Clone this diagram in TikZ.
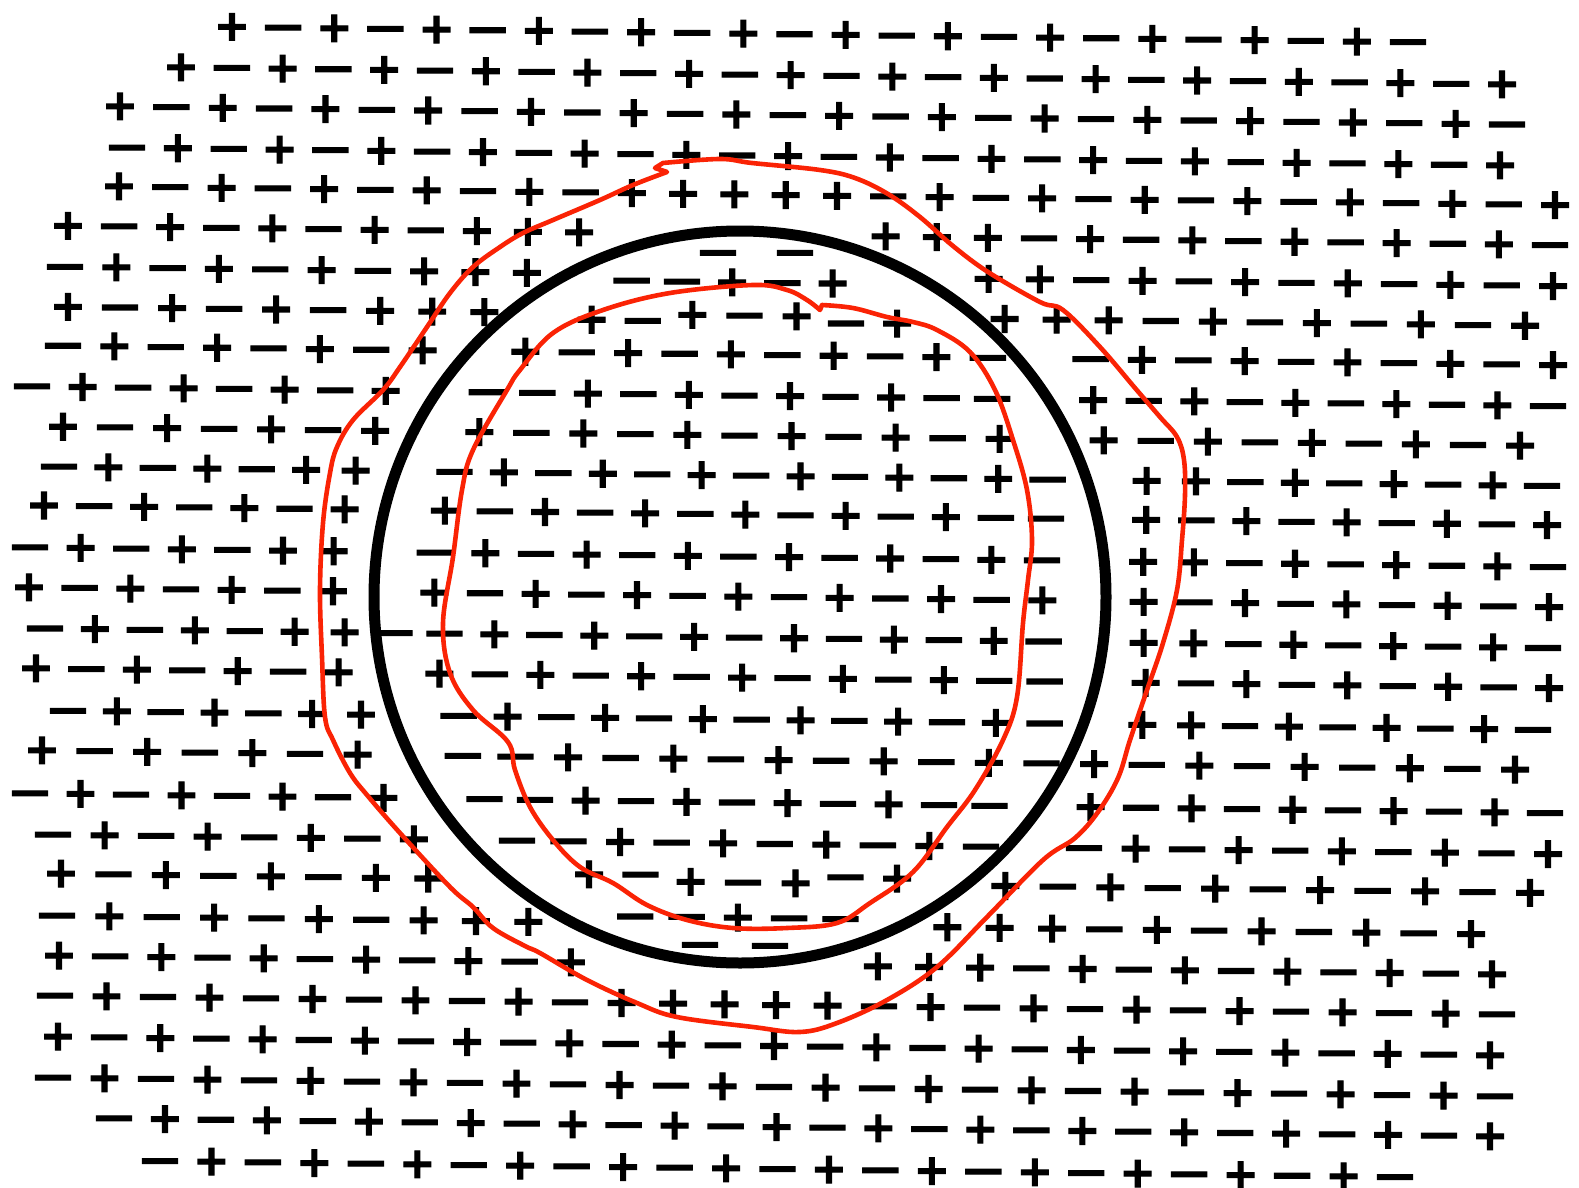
\documentclass[tikz,border=0pt]{standalone}
\usepackage{fontspec}
\usepackage{graphicx}
\newfontfamily\sgfont[FakeBold=2.5]{DejaVu Sans Bold}
\definecolor{redc}{RGB}{250,35,5}
\tikzset{
  sgbase/.style={inner sep=0pt, outer sep=0pt, font=\sgfont\fontsize{43}{43}\selectfont, anchor=center},
  sgp/.style={sgbase, text height=14pt, text depth=14pt},
  sgm/.style={sgbase, text height=2.5pt, text depth=2.5pt},
  ringline/.style={line width=11pt, draw=black},
  redline/.style={line width=4.6pt, draw=redc, line join=round, line cap=round},
}
\newcommand\PL{\raisebox{-15.4pt}{+}}
\newcommand\MI{\raisebox{-15.4pt}{\scalebox{1.3}[1]{−}}}
% #1 id, #2 y at x=0, #3 first x, #4 last x, #5 first sign (1 = plus), #6 count
\newcommand\signrow[6]{%
  \pgfmathsetmacro\stp{(#4-#3)/(#6-1)}%
  \pgfmathtruncatemacro\lastidx{#6-1}%
  \foreach \i in {0,...,\lastidx}{%
    \pgfmathsetmacro\xx{#3+\i*\stp}%
    \pgfmathsetmacro\yy{#2+0.013*\xx}%
    \pgfmathsetmacro\ddx{\xx-740}%
    \pgfmathsetmacro\ddy{\yy-597}%
    \pgfmathsetmacro\dd{veclen(\ddx,\ddy)+0.01}%
    \pgfmathsetmacro\cc{(\ddx/\dd)^2}%
    \pgfmathtruncatemacro\kind{ifthenelse(abs(\dd-366)<18,0,ifthenelse(and(\dd>=384,\dd<424),1,ifthenelse(and(\dd<=348,\dd>342-34*\cc),2,ifthenelse(mod(\i+#5,2)==1,1,2))))}%
    \pgfmathsetmacro\fac{ifthenelse(and(and(\dd<358,\dd>300),\cc<0.3),(\dd-7)/\dd,1)}%
    \pgfmathsetmacro\px{740+\ddx*\fac}%
    \pgfmathsetmacro\py{597+\ddy*\fac}%
    \ifnum\kind=1 \node[sgp] (s#1-\i) at (\px,\py) {\PL};\fi
    \ifnum\kind=2 \node[sgm] (s#1-\i) at (\px,\py) {\MI};\fi
  }%
}
\begin{document}
\begin{tikzpicture}[x=1pt,y=-1pt]
\fill[white] (0,0) rectangle (1579,1188);
\useasboundingbox (0,0) rectangle (1579,1188);
\signrow{1}{22}{232}{1408}{1}{24}
\signrow{2}{63}{181}{1502}{1}{27}
\signrow{3}{103}{120}{1507}{1}{28}
\signrow{4}{144}{127}{1500}{0}{28}
\signrow{5}{183}{119}{1555}{1}{29}
\signrow{6}{223}{68}{1550}{1}{30}
\signrow{7}{264}{65}{1553}{0}{30}
\signrow{8}{304}{68}{1525}{1}{29}
\signrow{9}{343}{63}{1553}{0}{30}
\signrow{10}{384}{32}{1548}{0}{31}
\signrow{11}{424}{63}{1520}{1}{29}
\signrow{12}{464}{59}{1542}{0}{31}
\signrow{13}{503}{44}{1547}{1}{31}
\signrow{14}{545}{30}{1548}{0}{31}
\signrow{15}{585}{29}{1549}{1}{31}
\signrow{16}{626}{45}{1543}{0}{31}
\signrow{17}{666}{36}{1549}{1}{31}
\signrow{18}{708}{68}{1533}{0}{31}
\signrow{19}{748}{42}{1515}{1}{29}
\signrow{20}{791}{30}{1545}{0}{31}
\signrow{21}{832}{53}{1548}{0}{30}
\signrow{22}{871}{61}{1530}{1}{29}
\signrow{23}{913}{57}{1471}{0}{28}
\signrow{24}{953}{59}{1492}{1}{29}
\signrow{25}{993}{55}{1497}{0}{29}
\signrow{26}{1034}{58}{1490}{1}{29}
\signrow{27}{1075}{53}{1495}{0}{29}
\signrow{28}{1115}{114}{1490}{0}{28}
\signrow{29}{1157}{160}{1395}{0}{25}
% extra signs just inside the circle, top and bottom
\node[sgm] (t1) at (718,251) {\MI};
\node[sgm] (t2) at (795,251) {\MI};
\node[sgm] (b1) at (700,943) {\MI};
\node[sgm] (b2) at (770,944) {\MI};
% the circle
\draw[ringline] (740,597) circle (366pt);
% outer red curve
\draw[redline] plot[smooth, tension=0.6] coordinates {(663,163) (720,159) (752,163) (820,170) (855,178) (888,194) (920,217) (953,246) (988,272) (1040,302) (1063,310) (1100,347) (1135,388) (1160,417) (1177,437) (1184,460) (1185,495) (1182,540) (1177,590) (1163,643) (1147,690) (1130,740) (1118,778) (1098,812) (1075,838) (1043,860) (987,917) (937,967) (887,1000) (837,1023) (800,1032) (753,1027) (677,1017) (637,1003) (587,980) (540,953) (525,946) (493,928) (473,907) (450,887) (400,833) (367,795) (350,773) (333,740) (325,717) (322,657) (320,590) (323,523) (330,473) (337,447) (353,420) (383,390) (400,367) (427,327) (450,293) (473,267) (500,247) (523,233) (553,220) (600,200) (633,185) (667,172)} -- (655,168) -- (663,163);
% inner red curve
\draw[redline] plot[smooth, tension=0.6] coordinates {(822,305) (853,308) (887,317) (913,322) (937,330) (970,352) (995,390) (1013,440) (1027,490) (1032,540) (1028,580) (1023,623) (1017,697) (1003,740) (975,790) (947,827) (913,872) (870,903) (837,923) (787,928) (733,928) (687,920) (647,905) (613,883) (580,867) (553,840) (530,807) (515,770) (508,742) (473,710) (450,673) (443,623) (453,557) (462,490) (473,450) (507,390) (520,370) (553,333) (603,310) (670,293) (753,285) (787,290) (807,300) (820,310)} -- (822,305);
\end{tikzpicture}
\end{document}
